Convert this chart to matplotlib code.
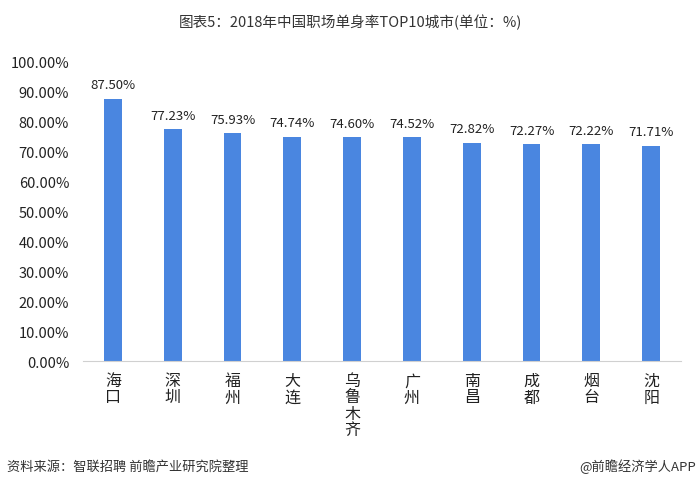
import matplotlib.pyplot as plt

plt.rcParams['font.family'] = ['Noto Sans CJK SC', 'DejaVu Sans']

# data
cities = ['海口', '深圳', '福州', '大连', '乌鲁木齐', '广州', '南昌', '成都', '烟台', '沈阳']
rates = [87.50, 77.23, 75.93, 74.74, 74.60, 74.52, 72.82, 72.27, 72.22, 71.71]
yticks = [0, 10, 20, 30, 40, 50, 60, 70, 80, 90, 100]

fig = plt.figure(figsize=(7, 4.89), dpi=100)
ax = fig.add_axes([0.1186, 0.2597, 0.8543, 0.6135])

x = range(len(cities))
ax.bar(x, rates, width=0.3, color='#4A86E0')

for xi, v in zip(x, rates):
    ax.text(xi, v + 2.5, f'{v:.2f}%', ha='center', va='bottom',
            fontsize=9.5, color='#222222')

ax.set_xlim(-0.5, len(cities) - 0.5)
ax.set_ylim(0, 100)
ax.set_yticks(yticks)
ax.set_yticklabels([f'{t:.2f}%' for t in yticks], fontsize=10.5, color='#222222')
ax.set_xticks(list(x))
ax.set_xticklabels(['\n'.join(c) for c in cities], fontsize=11.5,
                   color='#222222', linespacing=0.95, va='top')
ax.tick_params(axis='both', length=0, pad=8)
ax.tick_params(axis='y', pad=10)

for s in ['top', 'right', 'left']:
    ax.spines[s].set_visible(False)
ax.spines['bottom'].set_color('#d0d0d0')

fig.text(0.5, 0.955, '图表5：2018年中国职场单身率TOP10城市(单位：%)',
         ha='center', va='center', fontsize=10.5, color='#333333')
fig.text(0.01, 0.045, '资料来源：智联招聘 前瞻产业研究院整理',
         ha='left', va='center', fontsize=9.5, color='#333333')
fig.text(0.995, 0.045, '@前瞻经济学人APP',
         ha='right', va='center', fontsize=9.5, color='#333333')

fig.savefig('out.png', dpi=100)
